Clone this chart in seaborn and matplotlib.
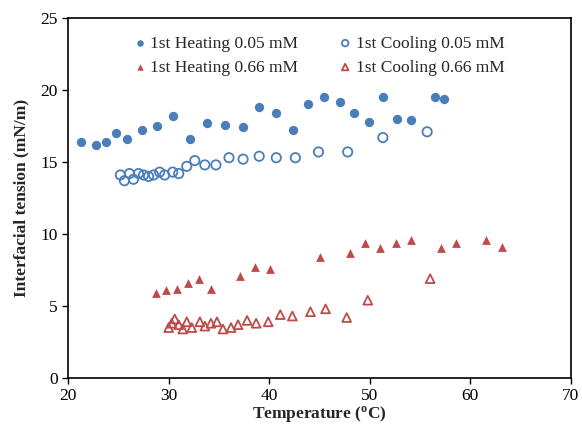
import matplotlib
matplotlib.use("Agg")
import matplotlib.pyplot as plt
import pandas as pd
import seaborn as sns

# 1st heating, 0.05 mM
heat_005_t = [21.3, 22.8, 23.8, 24.8, 25.9, 27.3, 28.8, 30.4, 32.1, 33.8, 35.6, 37.4,
              39.0, 40.7, 42.4, 43.9, 45.4, 47.0, 48.4, 49.9, 51.3, 52.7, 54.1, 56.5, 57.4]
heat_005_ift = [16.4, 16.2, 16.4, 17.0, 16.6, 17.2, 17.5, 18.2, 16.6, 17.7, 17.6, 17.4,
                18.8, 18.4, 17.2, 19.0, 19.5, 19.2, 18.4, 17.8, 19.5, 18.0, 17.9, 19.5, 19.4]

# 1st cooling, 0.05 mM
cool_005_t = [25.2, 25.6, 26.1, 26.5, 27.0, 27.5, 28.0, 28.5, 29.1, 29.6, 30.4, 31.0,
              31.8, 32.6, 33.6, 34.7, 36.0, 37.4, 39.0, 40.7, 42.6, 44.9, 47.8, 51.3, 55.7]
cool_005_ift = [14.1, 13.7, 14.2, 13.8, 14.2, 14.1, 14.0, 14.1, 14.3, 14.1, 14.3, 14.2,
                14.7, 15.1, 14.8, 14.8, 15.3, 15.2, 15.4, 15.3, 15.3, 15.7, 15.7, 16.7, 17.1]

# 1st heating, 0.66 mM
heat_066_t = [28.7, 29.7, 30.8, 31.9, 33.0, 34.2, 37.1, 38.6, 40.1, 45.0, 48.0, 49.5,
              51.0, 52.6, 54.1, 57.1, 58.6, 61.6, 63.1]
heat_066_ift = [5.9, 6.1, 6.2, 6.6, 6.9, 6.2, 7.1, 7.7, 7.6, 8.4, 8.7, 9.4,
                9.0, 9.4, 9.6, 9.0, 9.4, 9.6, 9.1]

# 1st cooling, 0.66 mM
cool_066_t = [30.0, 30.3, 30.6, 31.0, 31.4, 31.8, 32.3, 33.1, 33.6, 34.2, 34.8, 35.4,
              36.2, 36.9, 37.8, 38.7, 39.9, 41.1, 42.3, 44.1, 45.6, 47.7, 49.8, 56.0]
cool_066_ift = [3.5, 3.8, 4.1, 3.7, 3.4, 3.9, 3.5, 3.9, 3.6, 3.8, 3.9, 3.4,
                3.5, 3.7, 4.0, 3.8, 3.9, 4.4, 4.3, 4.6, 4.8, 4.2, 5.4, 6.9]

blue = "#4a7ebb"
red = "#be4b48"

sns.set_style("ticks")
plt.rcParams["font.family"] = ["Liberation Serif", "DejaVu Serif"]
plt.rcParams["mathtext.fontset"] = "custom"
plt.rcParams["mathtext.rm"] = "Liberation Serif"
plt.rcParams["mathtext.bf"] = "Liberation Serif:bold"

fig = plt.figure(figsize=(5.82, 4.30), dpi=100)
ax = fig.add_axes([0.117, 0.121, 0.864, 0.837])

series = [
    ("1st Heating 0.05 mM", heat_005_t, heat_005_ift, "o", blue, True),
    ("1st Cooling 0.05 mM", cool_005_t, cool_005_ift, "o", blue, False),
    ("1st Heating 0.66 mM", heat_066_t, heat_066_ift, "^", red, True),
    ("1st Cooling 0.66 mM", cool_066_t, cool_066_ift, "^", red, False),
]

for label, t, ift, marker, color, filled in series:
    df = pd.DataFrame({"Temperature": t, "IFT": ift})
    size = 45 if marker == "o" else 40
    if filled:
        sns.scatterplot(data=df, x="Temperature", y="IFT", marker=marker, color=color,
                        s=size, linewidth=0, ax=ax, label=label)
    else:
        sns.scatterplot(data=df, x="Temperature", y="IFT", marker=marker,
                        facecolors="none", edgecolor=color, s=size,
                        linewidth=1.3, ax=ax, label=label)

ax.set_xlim(20, 70)
ax.set_ylim(0, 25)
ax.set_xticks(range(20, 71, 10))
ax.set_yticks(range(0, 26, 5))
ax.tick_params(labelsize=12.5, direction="out", length=4, width=1, colors="black")
for sp in ax.spines.values():
    sp.set_visible(True)
    sp.set_color("black")
    sp.set_linewidth(1.2)

ax.set_xlabel("Temperature ($\\mathbf{^{o}}$C)", fontsize=12.5, fontweight="bold", labelpad=0)
ax.set_ylabel("Interfacial tension (mN/m)", fontsize=12.5, fontweight="bold", labelpad=8)

# column-major fill: reorder so rows read heating/cooling per concentration
handles, labels = ax.get_legend_handles_labels()
order = [0, 2, 1, 3]
leg = ax.legend([handles[i] for i in order], [labels[i] for i in order],
                loc="upper center", ncol=2, frameon=False, fontsize=12.5,
                handlelength=0.6, handletextpad=0.3, columnspacing=2.4,
                labelspacing=0.45, bbox_to_anchor=(0.5, 0.995))
for h in leg.legend_handles:
    h.set_sizes([22])

fig.savefig("out.png", dpi=100)
